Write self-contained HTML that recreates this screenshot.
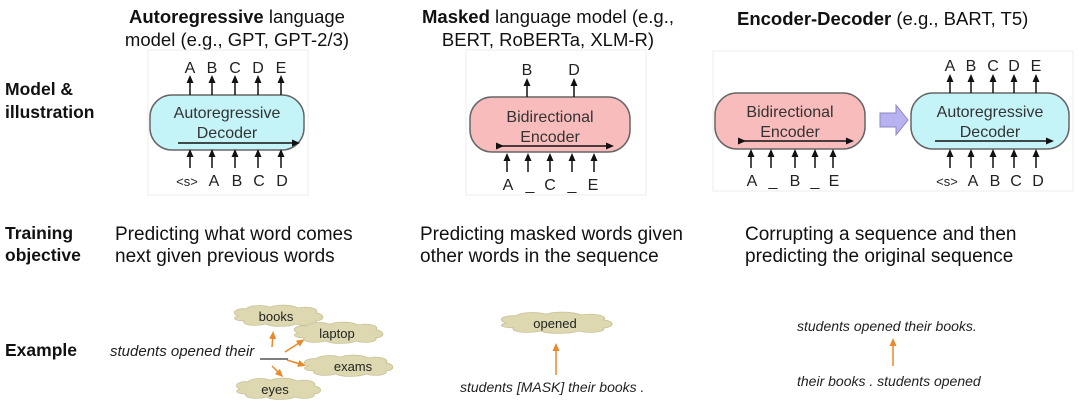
<!DOCTYPE html>
<html><head><meta charset="utf-8"><style>
html,body{margin:0;padding:0;background:#fff;}
svg{display:block;}
text{font-family:"Liberation Sans",Arial,sans-serif;}
</style></head><body>
<svg width="1080" height="403" viewBox="0 0 1080 403" xmlns="http://www.w3.org/2000/svg">
<defs>
<marker id="ab" markerWidth="8" markerHeight="8" refX="4" refY="4" orient="auto" markerUnits="userSpaceOnUse"><path d="M0,0.5 L8,4 L0,7.5 Z" fill="#111"/></marker>
<marker id="ao" markerWidth="8" markerHeight="8" refX="5" refY="4" orient="auto" markerUnits="userSpaceOnUse"><path d="M0,0.5 L8,4 L0,7.5 Z" fill="#e8892a"/></marker>
<g id="cloud"><path d="M-40,0 C-48,-4 -42,-10 -32,-9 C-28,-14 -15,-14 -8,-11 C0,-15 14,-14 20,-10 C30,-13 42,-9 38,-4 C48,-2 46,6 38,6 C40,12 26,13 18,10 C10,14 -6,14 -12,10 C-22,13 -36,12 -34,6 C-44,6 -46,2 -40,0 Z" fill="#ddd8b0" stroke="#c9c39a" stroke-width="1"/></g>
</defs>

<!-- Headers -->
<text x="237" y="23" font-size="18.5" text-anchor="middle" fill="#111"><tspan font-weight="bold">Autoregressive</tspan> language</text>
<text x="237" y="46" font-size="18.5" text-anchor="middle" fill="#111">model (e.g., GPT, GPT-2/3)</text>
<text x="548" y="23" font-size="18.5" text-anchor="middle" fill="#111"><tspan font-weight="bold">Masked</tspan> language model (e.g.,</text>
<text x="548" y="46" font-size="18.5" text-anchor="middle" fill="#111">BERT, RoBERTa, XLM-R)</text>
<text x="737" y="25" font-size="18.5" fill="#111"><tspan font-weight="bold">Encoder-Decoder</tspan> (e.g., BART, T5)</text>

<!-- Row labels -->
<text x="5" y="95" font-size="17.5" font-weight="bold" fill="#111">Model &amp;</text>
<text x="5" y="118" font-size="17.5" font-weight="bold" fill="#111">illustration</text>
<text x="5" y="239" font-size="17.5" font-weight="bold" fill="#111">Training</text>
<text x="5" y="261" font-size="17.5" font-weight="bold" fill="#111">objective</text>
<text x="5" y="356" font-size="17.5" font-weight="bold" fill="#111">Example</text>

<!-- Panels -->
<rect x="148" y="50" width="160" height="145" fill="none" stroke="#eee"/>
<rect x="466" y="50" width="180" height="145" fill="none" stroke="#eee"/>
<rect x="713" y="51" width="360" height="140" fill="none" stroke="#eee"/>

<!-- Col1 -->
<rect x="150" y="95" width="154" height="55" rx="22" fill="#c4f3f8" stroke="#666" stroke-width="1.5"/>
<text x="227" y="118" font-size="16" text-anchor="middle" fill="#333">Autoregressive</text>
<text x="227" y="138" font-size="16" text-anchor="middle" fill="#333">Decoder</text>
<line x1="178" y1="143" x2="296" y2="143" stroke="#111" stroke-width="1.5" marker-end="url(#ab)"/>
<g stroke="#111" stroke-width="1.5" fill="none">
<line x1="190" y1="95" x2="190" y2="79" marker-end="url(#ab)"/>
<line x1="212" y1="95" x2="212" y2="79" marker-end="url(#ab)"/>
<line x1="235" y1="95" x2="235" y2="79" marker-end="url(#ab)"/>
<line x1="258" y1="95" x2="258" y2="79" marker-end="url(#ab)"/>
<line x1="281" y1="95" x2="281" y2="79" marker-end="url(#ab)"/>
<line x1="190" y1="168" x2="190" y2="153" marker-end="url(#ab)"/>
<line x1="212" y1="168" x2="212" y2="153" marker-end="url(#ab)"/>
<line x1="235" y1="168" x2="235" y2="153" marker-end="url(#ab)"/>
<line x1="258" y1="168" x2="258" y2="153" marker-end="url(#ab)"/>
<line x1="281" y1="168" x2="281" y2="153" marker-end="url(#ab)"/>
</g>
<g font-size="16" fill="#222" text-anchor="middle">
<text x="190" y="73">A</text><text x="212" y="73">B</text><text x="235" y="73">C</text><text x="258" y="73">D</text><text x="281" y="73">E</text>
<text x="187" y="186" font-size="13">&lt;s&gt;</text><text x="214" y="186">A</text><text x="237" y="186">B</text><text x="259" y="186">C</text><text x="282" y="186">D</text>
</g>

<!-- Col2 -->
<rect x="470" y="97" width="160" height="55" rx="22" fill="#f9bcbc" stroke="#666" stroke-width="1.5"/>
<text x="550" y="122" font-size="16" text-anchor="middle" fill="#333">Bidirectional</text>
<text x="550" y="142" font-size="16" text-anchor="middle" fill="#333">Encoder</text>
<line x1="500" y1="146" x2="610" y2="146" stroke="#111" stroke-width="1.5" marker-start="url(#ab)" marker-end="url(#ab)"/>
<g stroke="#111" stroke-width="1.5">
<line x1="527" y1="97" x2="527" y2="82" marker-end="url(#ab)"/>
<line x1="574" y1="97" x2="574" y2="82" marker-end="url(#ab)"/>
<line x1="507" y1="172" x2="507" y2="157" marker-end="url(#ab)"/>
<line x1="528" y1="172" x2="528" y2="157" marker-end="url(#ab)"/>
<line x1="550" y1="172" x2="550" y2="157" marker-end="url(#ab)"/>
<line x1="572" y1="172" x2="572" y2="157" marker-end="url(#ab)"/>
<line x1="594" y1="172" x2="594" y2="157" marker-end="url(#ab)"/>
</g>
<g font-size="16" fill="#222" text-anchor="middle">
<text x="527" y="75">B</text><text x="574" y="75">D</text>
<text x="508" y="190">A</text><text x="530" y="190">_</text><text x="550" y="190">C</text><text x="572" y="190">_</text><text x="593" y="190">E</text>
</g>

<!-- Col3 -->
<rect x="715" y="93" width="150" height="56" rx="22" fill="#f9bcbc" stroke="#666" stroke-width="1.5"/>
<text x="790" y="117" font-size="16" text-anchor="middle" fill="#333">Bidirectional</text>
<text x="790" y="137" font-size="16" text-anchor="middle" fill="#333">Encoder</text>
<line x1="742" y1="141" x2="850" y2="141" stroke="#111" stroke-width="1.5" marker-start="url(#ab)" marker-end="url(#ab)"/>
<path d="M880,113 L896,113 L896,105 L908,120 L896,135 L896,127 L880,127 Z" fill="#b9b2f0" stroke="#8d86c8"/>
<rect x="911" y="93" width="158" height="56" rx="22" fill="#c4f3f8" stroke="#666" stroke-width="1.5"/>
<text x="990" y="117" font-size="16" text-anchor="middle" fill="#333">Autoregressive</text>
<text x="990" y="137" font-size="16" text-anchor="middle" fill="#333">Decoder</text>
<line x1="935" y1="141" x2="1050" y2="141" stroke="#111" stroke-width="1.5" marker-end="url(#ab)"/>
<g stroke="#111" stroke-width="1.5">
<line x1="950" y1="93" x2="950" y2="78" marker-end="url(#ab)"/>
<line x1="971" y1="93" x2="971" y2="78" marker-end="url(#ab)"/>
<line x1="993" y1="93" x2="993" y2="78" marker-end="url(#ab)"/>
<line x1="1014" y1="93" x2="1014" y2="78" marker-end="url(#ab)"/>
<line x1="1036" y1="93" x2="1036" y2="78" marker-end="url(#ab)"/>
<line x1="950" y1="168" x2="950" y2="153" marker-end="url(#ab)"/>
<line x1="971" y1="168" x2="971" y2="153" marker-end="url(#ab)"/>
<line x1="993" y1="168" x2="993" y2="153" marker-end="url(#ab)"/>
<line x1="1014" y1="168" x2="1014" y2="153" marker-end="url(#ab)"/>
<line x1="1036" y1="168" x2="1036" y2="153" marker-end="url(#ab)"/>
<line x1="751" y1="168" x2="751" y2="153" marker-end="url(#ab)"/>
<line x1="771" y1="168" x2="771" y2="153" marker-end="url(#ab)"/>
<line x1="795" y1="168" x2="795" y2="153" marker-end="url(#ab)"/>
<line x1="815" y1="168" x2="815" y2="153" marker-end="url(#ab)"/>
<line x1="833" y1="168" x2="833" y2="153" marker-end="url(#ab)"/>
</g>
<g font-size="16" fill="#222" text-anchor="middle">
<text x="950" y="71">A</text><text x="971" y="71">B</text><text x="993" y="71">C</text><text x="1014" y="71">D</text><text x="1036" y="71">E</text>
<text x="947" y="186" font-size="13">&lt;s&gt;</text><text x="973" y="186">A</text><text x="995" y="186">B</text><text x="1016" y="186">C</text><text x="1038" y="186">D</text>
<text x="752" y="186">A</text><text x="773" y="186">_</text><text x="795" y="186">B</text><text x="815" y="186">_</text><text x="834" y="186">E</text>
</g>

<!-- Training objectives -->
<g font-size="19" fill="#111">
<text x="115" y="240">Predicting what word comes</text>
<text x="115" y="262">next given previous words</text>
<text x="420" y="240">Predicting masked words given</text>
<text x="420" y="262">other words in the sequence</text>
<text x="745" y="240">Corrupting a sequence and then</text>
<text x="745" y="262">predicting the original sequence</text>
</g>

<!-- Example col1 -->
<text x="110" y="356" font-size="15" font-style="italic" fill="#222">students opened their</text>
<line x1="260" y1="359" x2="288" y2="359" stroke="#333" stroke-width="1.2"/>
<use href="#cloud" transform="translate(278,316) scale(1.0,0.8)"/>
<use href="#cloud" transform="translate(338,333) scale(1.0,0.8)"/>
<use href="#cloud" transform="translate(348,366) scale(1.0,0.8)"/>
<use href="#cloud" transform="translate(278,389) scale(0.95,0.8)"/>
<g font-size="13" fill="#222" text-anchor="middle">
<text x="276" y="321">books</text>
<text x="337" y="338">laptop</text>
<text x="353" y="371">exams</text>
<text x="275" y="394">eyes</text>
</g>
<g stroke="#e8892a" stroke-width="1.5">
<line x1="272" y1="347" x2="273" y2="334" marker-end="url(#ao)"/>
<line x1="285" y1="352" x2="302" y2="341" marker-end="url(#ao)"/>
<line x1="287" y1="360" x2="303" y2="365" marker-end="url(#ao)"/>
<line x1="272" y1="366" x2="281" y2="375" marker-end="url(#ao)"/>
</g>

<!-- Example col2 -->
<use href="#cloud" transform="translate(556,323) scale(1.25,0.8)"/>
<text x="555" y="328" font-size="13" text-anchor="middle" fill="#222">opened</text>
<line x1="556" y1="375" x2="556" y2="346" stroke="#e8892a" stroke-width="1.5" marker-end="url(#ao)"/>
<text x="460" y="392" font-size="14" font-style="italic" fill="#222">students [MASK] their books .</text>

<!-- Example col3 -->
<text x="797" y="331" font-size="14" font-style="italic" fill="#222">students opened their books.</text>
<line x1="893" y1="366" x2="893" y2="341" stroke="#e8892a" stroke-width="1.5" marker-end="url(#ao)"/>
<text x="797" y="386" font-size="14" font-style="italic" fill="#222">their books . students opened</text>
</svg>
</body></html>
